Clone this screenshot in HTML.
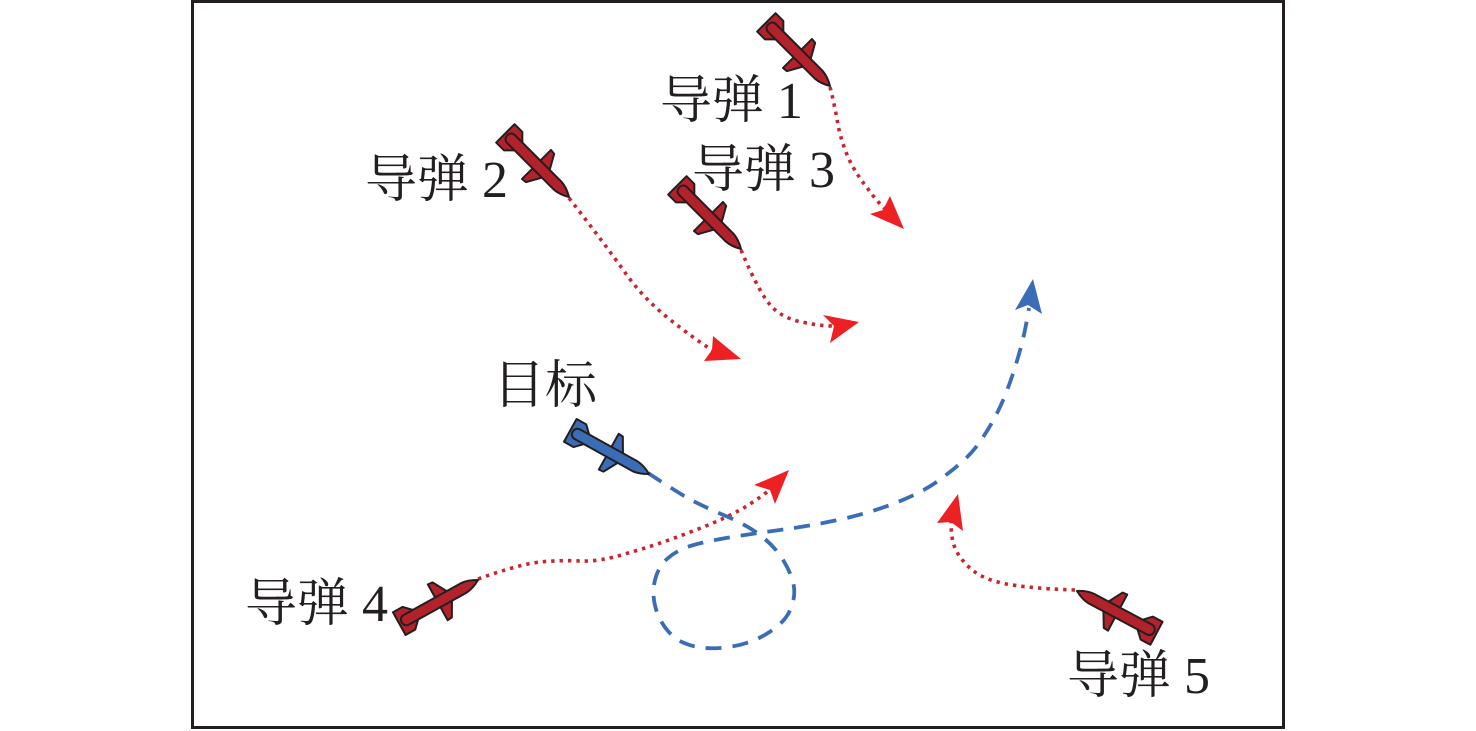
<!DOCTYPE html>
<html lang="zh">
<head>
<meta charset="utf-8">
<title>导弹与目标</title>
<style>
html,body{margin:0;padding:0;background:#fff;width:1476px;height:731px;overflow:hidden}
svg{display:block}
text{font-family:"Liberation Serif","Noto Serif CJK SC",serif;font-size:52px;fill:#231f20}
.r{fill:none;stroke:#c9252f;stroke-width:3.6;stroke-dasharray:3.4 5}
.b{fill:none;stroke:#3a6db5;stroke-width:3.8;stroke-dasharray:16 11}
</style>
</head>
<body>
<svg width="1476" height="731" viewBox="0 0 1476 731" xmlns="http://www.w3.org/2000/svg">
<defs>
<g id="m" stroke="#231f20" stroke-width="2" stroke-linejoin="round">
<path d="M-32 -4 L-41 -20 L-46 -20.500 L-46 -4 L-46 4 L-46 20.500 L-41 20 L-32 4Z"/>
<path d="M-71 -5 L-79 -13 L-90 -13 L-90 13 L-79 13 L-71 5Z"/>
<path d="M0 0 C-5 -3 -10 -5 -16 -5.500 L-82 -5.500 C-89 -5.500 -89 5.500 -82 5.500 L-16 5.500 C-10 5 -5 3 0 0Z"/>
</g>
</defs>
<rect x="192.500" y="1.500" width="1091" height="726" fill="#fff" stroke="#231f20" stroke-width="3"/>

<path class="r" d="M830 87 Q835 107 837.500 122 Q840 137 846.500 153.500 Q853 170 868 189 Q875 199 885 209"/>
<path class="r" d="M569 198 Q607 247 625 272.500 Q643 298 668 318 Q693 338 712 350"/>
<path class="r" d="M741 250 Q760 295 772.500 307.500 Q785 320 807.500 323 Q820 326 834 326"/>
<path class="r" d="M478 579 Q520 564 540 562 Q560 560 580 561 Q600 562 628 553 Q657 545 693 531 Q730 517 750 504 Q762 496 771 489"/>
<path class="r" d="M1075 590 Q1020 588 998 582 Q977 577 965 563 Q953 550 952 536 Q951 530 951 522"/>
<path class="b" d="M648 473 Q677 492 688.500 498.500 Q700 505 723.500 515 Q747 525 760 535 Q773 545 780.500 556 Q788 567 792 578.500 Q796 590 793 602 Q790 614 781.500 622.500 Q773 631 760 637.500 Q747 644 732 646.500 Q717 649 705 648 Q693 647 683 642.500 Q673 638 665.500 628 Q658 618 655 605.500 Q652 593 655 580 Q658 567 667.500 558.500 Q677 550 692 545.500 Q707 541 732 537 Q757 533 783.500 529.500 Q810 526 840 519.500 Q870 513 896.500 502.500 Q923 492 938 481 Q953 470 963 461 Q973 452 980.500 441 Q988 430 994 419 Q1000 408 1005 395.500 Q1010 383 1014 370.500 Q1018 358 1021.500 345 Q1025 332 1029 308"/>

<polygon points="904,229 870,214 883,210 890,196" fill="#ed2024"/>
<polygon points="741,359 704,361 712,350 713,336" fill="#ed2024"/>
<polygon points="859,322 830,343 834,326 823,315" fill="#ed2024"/>
<polygon points="789,470 775,504 770,490 754,485" fill="#ed2024"/>
<polygon points="958,494 963,531 951,522 937,523" fill="#ed2024"/>
<polygon points="1033,279 1042,314 1028,305 1015,310" fill="#3a6db5"/>

<use href="#m" fill="#b2222a" transform="translate(830,86) rotate(45)"/>
<use href="#m" fill="#b2222a" transform="translate(569,197) rotate(45)"/>
<use href="#m" fill="#b2222a" transform="translate(741,249) rotate(45)"/>
<use href="#m" fill="#b2222a" transform="translate(478,580) rotate(-29)"/>
<use href="#m" fill="#b2222a" transform="translate(1077,591) rotate(208)"/>
<use href="#m" fill="#3a6db5" transform="translate(649,474) rotate(29)"/>

<text x="660" y="118">导弹 1</text>
<text x="692" y="187">导弹 3</text>
<text x="365" y="197">导弹 2</text>
<text x="493" y="403">目标</text>
<text x="245" y="621">导弹 4</text>
<text x="1067" y="693">导弹 5</text>
</svg>
</body>
</html>
